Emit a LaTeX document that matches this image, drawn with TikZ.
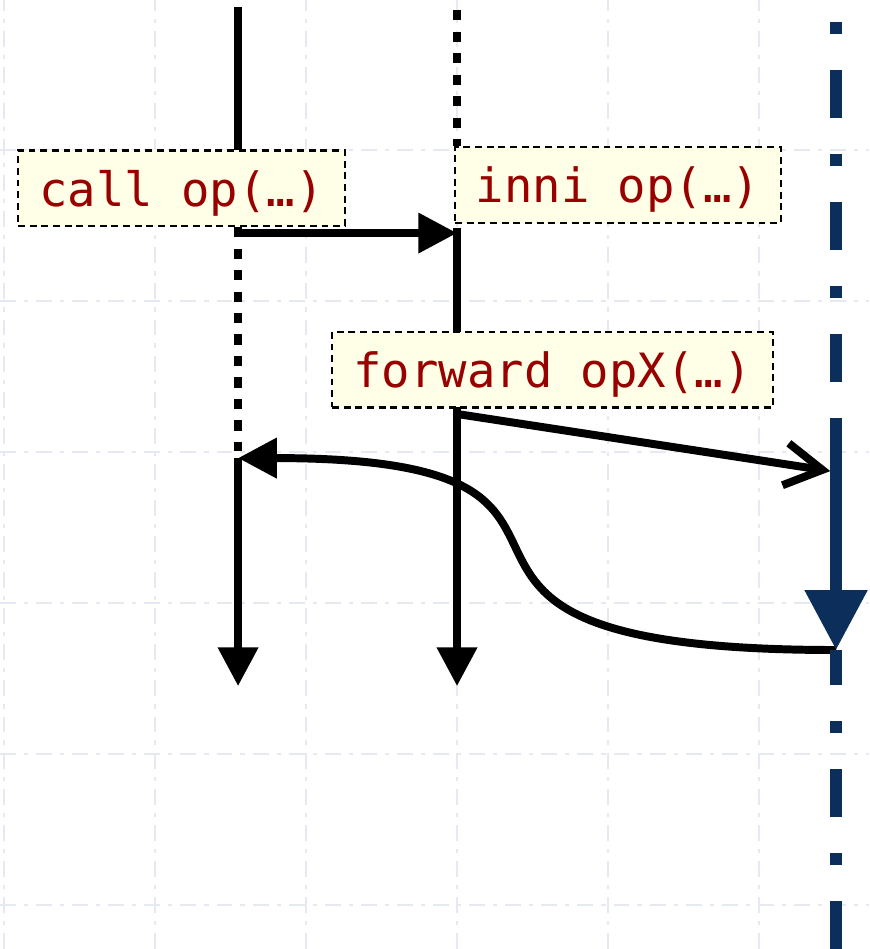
\documentclass[tikz,border=0pt]{standalone}
\usepackage{fontspec}
\setmonofont{DejaVu Sans Mono}
\usepackage{tikz}
\usetikzlibrary{arrows.meta,positioning,calc,backgrounds}

\definecolor{navy}{HTML}{0C2E5A}
\definecolor{notefill}{RGB}{255,255,232}
\definecolor{notetext}{RGB}{153,0,0}
\definecolor{gridgray}{RGB}{230,232,242}

\tikzset{
    gridline/.style={gridgray, line width=0.35pt, dash pattern=on 3pt off 1.5pt on 0.8pt off 1.5pt},
    note/.style={draw=black, line width=0.45pt, dash pattern=on 1.3pt off 0.9pt,
        fill=notefill, text=notetext, font=\ttfamily\fontsize{8.9}{10}\selectfont,
        inner xsep=3.6pt, inner ysep=0pt, text depth=0pt, minimum height=0.5cm},
    life/.style={line width=1.5pt},
    idle/.style={line width=1.5pt, dash pattern=on 1.9pt off 2.15pt},
    msg/.style={line width=1.5pt, -{Triangle[length=7.3pt,width=7.3pt]}},
    navyline/.style={navy, line width=2.26pt},
    navydash/.style={navyline, dash pattern=on 2.26pt off 6.78pt on 9.04pt off 6.78pt},
}

\begin{document}
\begin{tikzpicture}
    \useasboundingbox (-0.0265,-0.0066) rectangle (5.7285,-6.291);

    % lifelines
    \coordinate (a-top) at (1.55,-0.053);
    \coordinate (a-call) at (1.55,-1.55);
    \coordinate (a-wait) at (1.55,-2.99);
    \coordinate (a-ret) at (1.55,-3.04);
    \coordinate (a-end) at (1.55,-4.55);
    \coordinate (b-top) at (3.0,-0.073);
    \coordinate (b-call) at (3.0,-1.55);
    \coordinate (b-act) at (3.0,-1.517);
    \coordinate (b-fwd) at (3.0,-2.748);
    \coordinate (b-end) at (3.0,-4.55);
    \coordinate (c-top) at (5.51,-0.152);
    \coordinate (c-on) at (5.51,-2.775);
    \coordinate (c-in) at (5.51,-3.132);
    \coordinate (c-ret) at (5.51,-4.311);
    \coordinate (c-off) at (5.51,-4.543);
    \coordinate (c-end) at (5.51,-6.291);

    \node[note, minimum width=2.166cm] (call) at (1.1755,-1.252) {call op(…)};
    \node[note, minimum width=2.159cm] (inni) at (4.066,-1.232) {inni op(…)};
    \node[note, minimum width=2.92cm] (fwd) at (3.632,-2.454) {forward opX(…)};

    \begin{scope}[on background layer]
    \draw[gridline] (-0.0265,-6.291) grid (5.7285,-0.0066);

    \draw[life] (a-top) -- (a-top |- call);
    \draw[idle] (a-top |- call.south) -- (a-wait);
    \draw[msg] (a-ret) -- (a-end);
    \draw[idle] (b-top) -- (b-top |- inni.north);
    \draw[msg] (b-act) -- (b-end);

    % messages
    \draw[msg] (a-call) -- (b-call);
    \draw[line width=1.5pt, shorten >=1.1pt, -{Straight Barb[length=7pt,width=8pt]}] (b-fwd) -- (c-in);
    \draw[msg] (c-ret) to[out=180, in=0, out looseness=2.1, in looseness=1.85] (a-ret);

    \draw[navydash] (c-top) -- (c-on);
    \draw[navyline, -{Triangle[length=11.3pt,width=11.3pt]}] (c-on) -- (c-ret);
    \draw[navyline] (c-ret) -- (c-off);
    \draw[navydash, dash phase=18.08pt] (c-off) -- (c-end);
    \end{scope}
\end{tikzpicture}
\end{document}
